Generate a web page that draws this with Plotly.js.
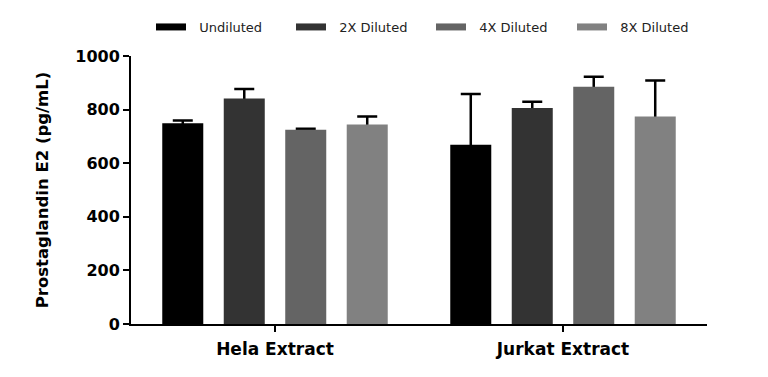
<!DOCTYPE html>
<html>
<head>
<meta charset="utf-8">
<script src="https://cdn.plot.ly/plotly-3.0.1.min.js"></script>
<style>html,body{margin:0;padding:0;background:#fff;}#chart{width:768px;height:377px;}</style>
</head>
<body>
<div id="chart"></div>
<script>
const categories = ["Hela Extract", "Jurkat Extract"];
const seriesNames = ["Undiluted", "2X Diluted", "4X Diluted", "8X Diluted"];
const undiluted = [749, 669];
const diluted2x = [841, 806];
const diluted4x = [725, 885];
const diluted8x = [744, 774];
const errUndiluted = [10, 189];
const err2x = [36, 23];
const err4x = [4, 38];
const err8x = [30, 135];
const yTicks = [0, 200, 400, 600, 800, 1000];

const colors = ["#000000", "#333333", "#646464", "#818181"];
const values = [undiluted, diluted2x, diluted4x, diluted8x];
const errors = [errUndiluted, err2x, err4x, err8x];
const legendIds = ["legend", "legend2", "legend3", "legend4"];

const FONT = "DejaVu Sans, Verdana, sans-serif";
const traces = [];
// error bars first (symmetric; lower half hidden under the bars drawn afterwards)
values.forEach((v, i) => {
  traces.push({
    type: "bar", x: categories, y: v, offsetgroup: String(i), showlegend: false,
    marker: {color: "rgba(0,0,0,0)", line: {width: 0}},
    error_y: {type: "data", array: errors[i], symmetric: true, color: "#000", thickness: 2.5, width: 10},
    hoverinfo: "skip"
  });
});
values.forEach((v, i) => {
  traces.push({
    type: "bar", x: categories, y: v, name: seriesNames[i], offsetgroup: String(i), showlegend: false,
    marker: {color: colors[i], line: {width: 0}}
  });
});
// legend entries
values.forEach((v, i) => {
  traces.push({
    type: "scatter", mode: "lines", x: [null], y: [null], name: "\u00a0\u00a0" + seriesNames[i],
    legend: legendIds[i], line: {color: colors[i], width: 7}, hoverinfo: "skip"
  });
});

const legendX = [151, 291, 431, 572];
const layout = {
  width: 768, height: 377,
  margin: {l: 131, r: 61, t: 56, b: 53},
  paper_bgcolor: "#fff", plot_bgcolor: "#fff",
  barmode: "group", bargap: 0.146, bargroupgap: 0.333,
  showlegend: true,
  xaxis: {type: "category", range: [-0.5, 1.5], showline: true, linecolor: "#000", linewidth: 2,
          ticks: "outside", ticklen: 6, tickwidth: 2, tickcolor: "#000", ticklabelstandoff: 3,
          showgrid: false, zeroline: false,
          tickfont: {family: FONT, size: 17, color: "#000", weight: "bold"}},
  yaxis: {range: [0, 1000], tickvals: yTicks, showline: true, linecolor: "#000", linewidth: 2,
          ticks: "outside", ticklen: 6, tickwidth: 2, tickcolor: "#000",
          showgrid: false, zeroline: false,
          tickfont: {family: FONT, size: 16, color: "#000", weight: "bold"},
          title: {text: "Prostaglandin E2 (pg/mL)", standoff: 22,
                  font: {family: FONT, size: 16.5, color: "#000", weight: "bold"}}}
};
legendIds.forEach((id, i) => {
  layout[id] = {orientation: "h", xref: "container", yref: "container",
    x: legendX[i] / 768, y: 1 - 12 / 377, xanchor: "left", yanchor: "top",
    font: {family: FONT, size: 13, color: "#222"}, bgcolor: "rgba(0,0,0,0)"};
});

Plotly.newPlot("chart", traces, layout, {displayModeBar: false, staticPlot: true});
</script>
</body>
</html>
